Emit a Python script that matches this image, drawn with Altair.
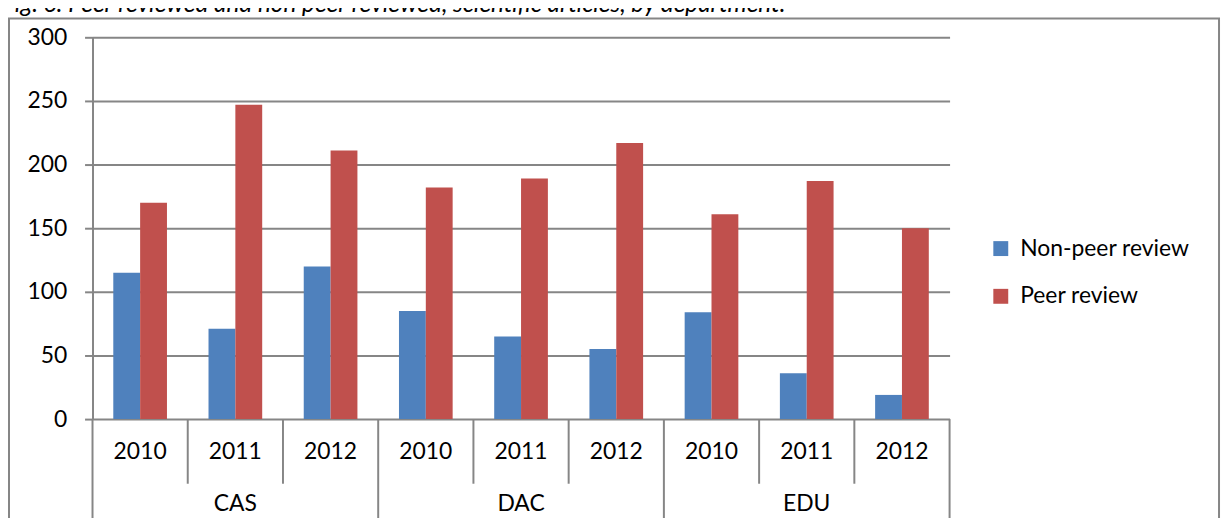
import altair as alt
import pandas as pd

depts = ["CAS", "DAC", "EDU"]
years = ["2010", "2011", "2012"]
non_peer = [115, 71, 120, 85, 65, 55, 84, 36, 19]
peer = [170, 247, 211, 182, 189, 217, 161, 187, 150]
series = ["Non-peer review", "Peer review"]
colors = ["#4F81BD", "#C0504D"]
title_text = "Fig. 6: Peer reviewed and non peer reviewed, scientific articles, by department."

FONT = "Lato"
GRAY = "#868686"

cat_rows = []
bar_rows = []
k = 0
for d in depts:
    for y in years:
        key = f"{d} {y}"
        cat_rows.append({"key": key, "dept": d, "year": y})
        bar_rows.append({"key": key, "series": series[0], "value": non_peer[k]})
        bar_rows.append({"key": key, "series": series[1], "value": peer[k]})
        k += 1
keys = [r["key"] for r in cat_rows]
cats = pd.DataFrame(cat_rows)
bars_df = pd.DataFrame(bar_rows)

xscale = alt.Scale(domain=keys, paddingInner=0, paddingOuter=0)


def xenc(band=None):
    if band is None:
        return alt.X("key:N", scale=xscale, axis=None)
    return alt.X("key:N", scale=xscale, axis=None, bandPosition=band)


bars = alt.Chart(bars_df).mark_bar().encode(
    x=xenc(),
    xOffset=alt.XOffset("series:N", sort=series,
                        scale=alt.Scale(domain=series, paddingOuter=0.774, paddingInner=0)),
    y=alt.Y("value:Q",
            scale=alt.Scale(domain=[0, 300], nice=False),
            axis=alt.Axis(values=[0, 50, 100, 150, 200, 250, 300], title=None,
                          grid=True, gridColor=GRAY, gridWidth=2,
                          domainColor=GRAY, domainWidth=2,
                          tickColor=GRAY, tickWidth=2, tickSize=8,
                          labelFont=FONT, labelFontSize=23, labelColor="black",
                          labelPadding=18)),
    color=alt.Color("series:N", sort=series,
                    scale=alt.Scale(domain=series, range=colors),
                    legend=alt.Legend(title=None, orient="none", legendX=902, legendY=201,
                                      symbolType="square", symbolSize=225,
                                      symbolStrokeWidth=0, padding=0,
                                      labelFont=FONT, labelFontSize=23, labelColor="black",
                                      labelOffset=8, rowPadding=24, labelLimit=400)),
)

year_text = alt.Chart(cats).mark_text(font=FONT, fontSize=23, color="black",
                                      baseline="middle").encode(
    x=xenc(), y=alt.value(417), text="year:N")

dept_text = alt.Chart(cats).transform_filter(alt.datum.year == years[1]).mark_text(
    font=FONT, fontSize=23, color="black", baseline="middle").encode(
    x=xenc(), y=alt.value(469), text="dept:N")

year_sep = alt.Chart(cats).transform_filter(alt.datum.year != years[0]).mark_rule(
    color=GRAY, strokeWidth=2).encode(
    x=xenc(0), y=alt.value(384), y2=alt.value(449))

dept_sep = alt.Chart(cats).transform_filter(alt.datum.year == years[0]).mark_rule(
    color=GRAY, strokeWidth=2).encode(
    x=xenc(0), y=alt.value(384), y2=alt.value(486))

end_sep = alt.Chart(cats).transform_filter(alt.datum.key == keys[-1]).mark_rule(
    color=GRAY, strokeWidth=2).encode(
    x=xenc(1), y=alt.value(384), y2=alt.value(486))

frame_df = pd.DataFrame({"t": [title_text]})
frame = alt.Chart(frame_df).mark_rect(fill=None, stroke=GRAY, strokeWidth=2).encode(
    x=alt.value(-84), x2=alt.value(1133), y=alt.value(-19), y2=alt.value(600))

title = alt.Chart(frame_df).mark_text(font=FONT, fontSize=24.5, fontStyle="italic",
                                      color="black", align="left",
                                      baseline="alphabetic").encode(
    x=alt.value(-91), y=alt.value(-25), text="t:N")

chart = alt.layer(frame, title, bars, year_sep, dept_sep, end_sep, year_text, dept_text).properties(
    width=862, height=384,
    autosize=alt.AutoSizeParams(type="none"),
    padding={"left": 85, "top": 28, "right": 275, "bottom": 98},
).configure_view(stroke=None)

chart.save("out.html", embed_options={"renderer": "svg", "actions": False})
